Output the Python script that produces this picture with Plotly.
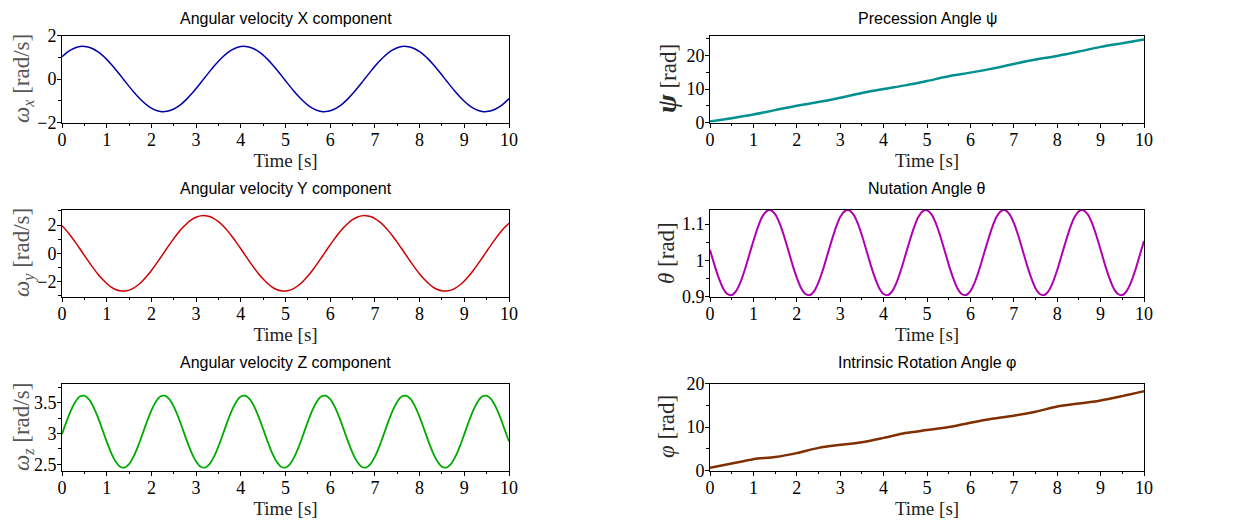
import plotly.graph_objects as go

# sample times (0.1 s for the oscillating signals, 0.5 s for the angles)
time_fine = [k / 10 for k in range(101)]
time_coarse = [k / 2 for k in range(21)]

omega_x = [1.023, 1.198, 1.337, 1.434, 1.489,
           1.498, 1.462, 1.381, 1.258, 1.097, 0.903, 0.681, 0.439, 0.183, -0.078, -0.338, -0.586,
           -0.817, -1.023, -1.198, -1.337, -1.434, -1.489, -1.498, -1.462, -1.381, -1.258, -1.097, -0.903,
           -0.681, -0.439, -0.183, 0.078, 0.338, 0.586, 0.817, 1.023, 1.198, 1.337, 1.434, 1.489,
           1.498, 1.462, 1.381, 1.258, 1.097, 0.903, 0.681, 0.439, 0.183, -0.078, -0.338, -0.586,
           -0.817, -1.023, -1.198, -1.337, -1.434, -1.489, -1.498, -1.462, -1.381, -1.258, -1.097, -0.903,
           -0.681, -0.439, -0.183, 0.078, 0.338, 0.586, 0.817, 1.023, 1.198, 1.337, 1.434, 1.489,
           1.498, 1.462, 1.381, 1.258, 1.097, 0.903, 0.681, 0.439, 0.183, -0.078, -0.338, -0.586,
           -0.817, -1.023, -1.198, -1.337, -1.434, -1.489, -1.498, -1.462, -1.381, -1.258, -1.097, -0.903]

omega_y = [1.953, 1.607, 1.212, 0.781, 0.325,
           -0.140, -0.601, -1.043, -1.454, -1.821, -2.132, -2.379, -2.553, -2.650, -2.666, -2.602, -2.458,
           -2.239, -1.953, -1.607, -1.212, -0.781, -0.325, 0.140, 0.601, 1.043, 1.454, 1.821, 2.132,
           2.379, 2.553, 2.650, 2.666, 2.602, 2.458, 2.239, 1.953, 1.607, 1.212, 0.781, 0.325,
           -0.140, -0.601, -1.043, -1.454, -1.821, -2.132, -2.379, -2.553, -2.650, -2.666, -2.602, -2.458,
           -2.239, -1.953, -1.607, -1.212, -0.781, -0.325, 0.140, 0.601, 1.043, 1.454, 1.821, 2.132,
           2.379, 2.553, 2.650, 2.666, 2.602, 2.458, 2.239, 1.953, 1.607, 1.212, 0.781, 0.325,
           -0.140, -0.601, -1.043, -1.454, -1.821, -2.132, -2.379, -2.553, -2.650, -2.666, -2.602, -2.458,
           -2.239, -1.953, -1.607, -1.212, -0.781, -0.325, 0.140, 0.601, 1.043, 1.454, 1.821, 2.132]

omega_z = [2.989, 3.191, 3.374, 3.515, 3.598,
           3.612, 3.556, 3.436, 3.268, 3.071, 2.869, 2.686, 2.545, 2.462, 2.448, 2.504, 2.624, 2.792,
           2.989, 3.191, 3.374, 3.515, 3.598,
           3.612, 3.556, 3.436, 3.268, 3.071, 2.869, 2.686, 2.545, 2.462, 2.448, 2.504, 2.624, 2.792,
           2.989, 3.191, 3.374, 3.515, 3.598,
           3.612, 3.556, 3.436, 3.268, 3.071, 2.869, 2.686, 2.545, 2.462, 2.448, 2.504, 2.624, 2.792,
           2.989, 3.191, 3.374, 3.515, 3.598,
           3.612, 3.556, 3.436, 3.268, 3.071, 2.869, 2.686, 2.545, 2.462, 2.448, 2.504, 2.624, 2.792,
           2.989, 3.191, 3.374, 3.515, 3.598,
           3.612, 3.556, 3.436, 3.268, 3.071, 2.869, 2.686, 2.545, 2.462, 2.448, 2.504, 2.624, 2.792,
           2.989, 3.191, 3.374, 3.515, 3.598,
           3.612, 3.556, 3.436, 3.268, 3.071, 2.869]

theta = [1.029, 0.988, 0.952, 0.923, 0.907,
         0.904, 0.915, 0.939, 0.973, 1.013, 1.053, 1.090, 1.119, 1.135, 1.138, 1.127, 1.103, 1.069,
         1.029, 0.988, 0.952, 0.923, 0.907,
         0.904, 0.915, 0.939, 0.973, 1.013, 1.053, 1.090, 1.119, 1.135, 1.138, 1.127, 1.103, 1.069,
         1.029, 0.988, 0.952, 0.923, 0.907,
         0.904, 0.915, 0.939, 0.973, 1.013, 1.053, 1.090, 1.119, 1.135, 1.138, 1.127, 1.103, 1.069,
         1.029, 0.988, 0.952, 0.923, 0.907,
         0.904, 0.915, 0.939, 0.973, 1.013, 1.053, 1.090, 1.119, 1.135, 1.138, 1.127, 1.103, 1.069,
         1.029, 0.988, 0.952, 0.923, 0.907,
         0.904, 0.915, 0.939, 0.973, 1.013, 1.053, 1.090, 1.119, 1.135, 1.138, 1.127, 1.103, 1.069,
         1.029, 0.988, 0.952, 0.923, 0.907,
         0.904, 0.915, 0.939, 0.973, 1.013, 1.053]

psi = [0.3, 1.3, 2.4, 3.7, 5.0, 6.1, 7.4, 8.8, 10.0, 11.1, 12.4,
       13.8, 14.9, 16.1, 17.5, 18.8, 19.9, 21.2, 22.6, 23.7, 24.8]

phi = [0.6, 1.6, 2.6, 3.1, 4.0, 5.2, 5.9, 6.5, 7.5, 8.6, 9.3,
       10.0, 11.0, 11.9, 12.6, 13.5, 14.7, 15.4, 16.1, 17.1, 18.2]

SERIF = "Liberation Serif"
SANS = "Liberation Sans"

# the page body adds 8px on the left/top, so the figure is sized to fit the window
W, H = 1249, 523
PAD = 8


def px_x(a, b):
    return ((a - PAD) / W, (b - PAD) / W)


def px_y(top, bottom):
    return (1 - (bottom - PAD) / H, 1 - (top - PAD) / H)


col_x = [px_x(62, 509), px_x(710, 1144)]
row_y = [px_y(35.5, 122.5), px_y(209.5, 296.5), px_y(383.5, 470.5)]
ylab_x = [(23 - PAD) / W, (666 - PAD) / W]
title_shift = [6, 11, 11]

panels = [
    # title, y label, x, y, colour, width, y range, tick0, dtick, minor dtick, col, row
    ("Angular velocity X component", "<i>ω<sub>x</sub></i> [rad/s]", time_fine, omega_x,
     "#0000a8", 1.5, [-2, 2], -2, 2, 1, 0, 0),
    ("Angular velocity Y component", "<i>ω<sub>y</sub></i> [rad/s]", time_fine, omega_y,
     "#cc0000", 1.5, [-3.05, 3.1], -2, 2, 1, 0, 1),
    ("Angular velocity Z component", "<i>ω<sub>z</sub></i> [rad/s]", time_fine, omega_z,
     "#00aa00", 1.8, [2.4, 3.81], 2.5, 0.5, 0.25, 0, 2),
    ("Precession Angle ψ", "<b><i><span style='font-size:28px'>ψ</span></i></b> [rad]", time_coarse, psi,
     "#009090", 2.5, [0, 26], 0, 10, 5, 1, 0),
    ("Nutation Angle θ", "<i>θ</i> [rad]", time_fine, theta,
     "#b000b0", 2.0, [0.9, 1.14], 0.9, 0.1, 0.05, 1, 1),
    ("Intrinsic Rotation Angle φ", "<i>φ</i> [rad]", time_coarse, phi,
     "#803000", 2.5, [0, 20], 0, 10, 5, 1, 2),
]

fig = go.Figure()
annotations = []

for i, (title, ylab, xs, ys, color, width, yr, t0, dt, mdt, col, row) in enumerate(panels):
    n = i + 1
    xa = "x" if n == 1 else "x%d" % n
    ya = "y" if n == 1 else "y%d" % n
    fig.add_trace(go.Scatter(x=xs, y=ys, mode="lines", xaxis=xa, yaxis=ya,
                             line=dict(color=color, width=width, shape="spline", smoothing=0.8),
                             showlegend=False, hoverinfo="x+y"))

    axis_common = dict(showline=True, linecolor="black", linewidth=1, mirror=True,
                       showgrid=False, zeroline=False, ticks="outside", tickcolor="black",
                       tickfont=dict(family=SERIF, size=18, color="black"), automargin=False)

    fig.layout["xaxis%d" % n] = dict(
        axis_common, domain=col_x[col], anchor=ya, range=[0, 10], tick0=0, dtick=1,
        ticklen=4, ticklabelstandoff=-3,
        minor=dict(ticks="outside", ticklen=2, dtick=0.5, tickcolor="black"),
        title=dict(text="Time [s]", font=dict(family=SERIF, size=19, color="#222222"), standoff=0))
    fig.layout["yaxis%d" % n] = dict(
        axis_common, domain=row_y[row], anchor=xa, range=yr, tick0=t0, dtick=dt,
        ticklen=4, ticklabelstandoff=-3,
        minor=dict(ticks="outside", ticklen=3, dtick=mdt, tickcolor="black"))

    annotations.append(dict(text=title, xref="paper", yref="paper",
                            x=sum(col_x[col]) / 2, y=row_y[row][1], xanchor="center",
                            yanchor="bottom", yshift=title_shift[row], showarrow=False,
                            font=dict(family=SANS, size=16, color="black")))
    annotations.append(dict(text=ylab, xref="paper", yref="paper", textangle=-90,
                            x=ylab_x[col], y=sum(row_y[row]) / 2, xanchor="center",
                            yanchor="middle", showarrow=False,
                            font=dict(family=SERIF, size=23,
                                      color="#555555" if col == 0 else "#2a2a2a")))

fig.update_layout(width=W, height=H, margin=dict(l=0, r=0, t=0, b=0),
                  paper_bgcolor="white", plot_bgcolor="white",
                  annotations=annotations)

fig.write_html("out.html")
